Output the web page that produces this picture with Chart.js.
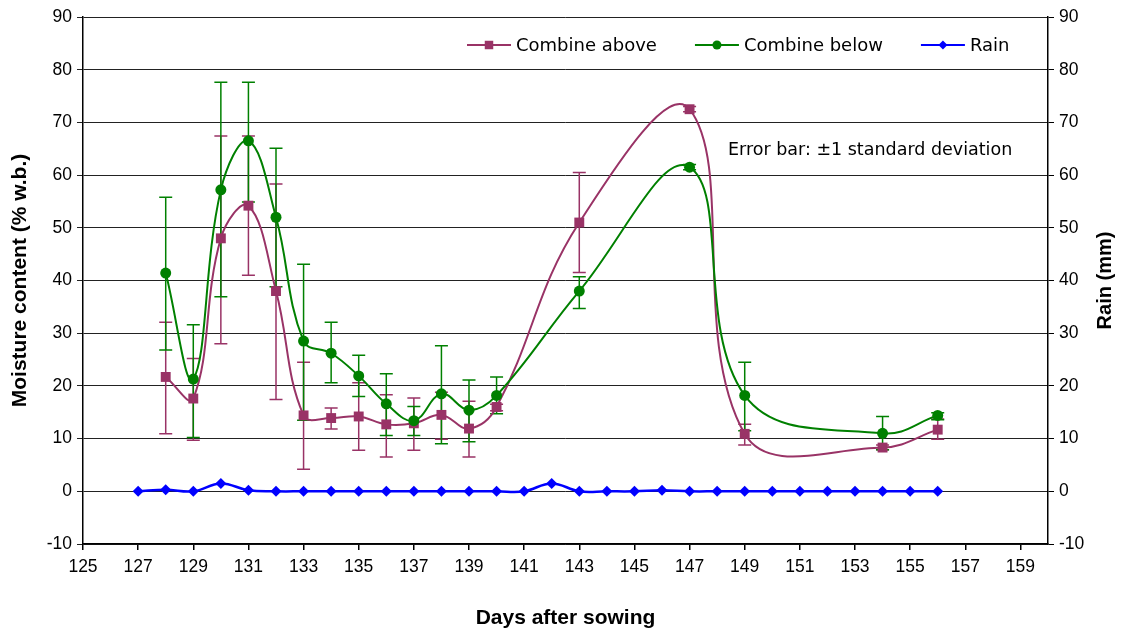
<!DOCTYPE html>
<html>
<head>
<meta charset="utf-8">
<script src="https://cdn.jsdelivr.net/npm/chart.js@4.4.1/dist/chart.umd.min.js"></script>
<style>
  html, body { margin: 0; padding: 0; background: #fff; }
  #wrap { width: 1124px; height: 634px; }
</style>
</head>
<body>
<div id="wrap"><canvas id="chart" width="1124" height="634"></canvas></div>
<script>
// days with moisture samples
const sampleDays = [128, 129, 130, 131, 132, 133, 134, 135, 136, 137, 138, 139, 140, 143, 147, 149, 154, 156];

// Combine above (mean, +1 sd, -1 sd)
const aboveVals = [21.7, 17.6, 48.0, 54.2, 38.0, 14.4, 13.9, 14.2, 12.7, 12.9, 14.5, 11.9, 16.0, 51.0, 72.5, 10.9, 8.3, 11.7];
const aboveHi   = [32.1, 25.2, 67.4, 67.4, 58.3, 24.5, 15.8, 20.6, 18.3, 17.7, 18.8, 17.1, 16.5, 60.5, 73.0, 12.7, 8.8, 13.7];
const aboveLo   = [10.9,  9.7, 28.0, 41.0, 17.4,  4.2, 11.8,  7.8,  6.5,  7.8,  9.9,  6.5, 15.3, 41.5, 72.0,  8.8, 7.9,  9.9];

// Combine below (mean, +1 sd, -1 sd)
const belowVals = [41.4, 21.3, 57.2, 66.5, 52.0, 28.5, 26.2, 21.9, 16.6, 13.4, 18.5, 15.4, 18.2, 38.0, 61.5, 18.2, 11.0, 14.4];
const belowHi   = [55.8, 31.6, 77.6, 77.6, 65.1, 43.1, 32.1, 25.8, 22.3, 16.1, 27.6, 21.1, 21.7, 40.7, 62.0, 24.5, 14.2, 14.9];
const belowLo   = [26.8, 10.2, 36.9, 54.9, 38.8, 13.5, 20.6, 18.0, 10.6, 10.6,  9.0,  9.4, 14.7, 34.7, 61.0, 11.5,  7.9, 13.6];

// Rain (mm)
const rainDays = [127, 128, 129, 130, 131, 132, 133, 134, 135, 136, 137, 138, 139, 140, 141, 142, 143, 144, 145, 146, 147, 148, 149, 150, 151, 152, 153, 154, 155, 156];
const rainVals = [0, 0.3, 0, 1.5, 0.2, 0, 0, 0, 0, 0, 0, 0, 0, 0, 0, 1.5, 0, 0, 0, 0.2, 0, 0, 0, 0, 0, 0, 0, 0, 0, 0];

const xTicks = [125, 127, 129, 131, 133, 135, 137, 139, 141, 143, 145, 147, 149, 151, 153, 155, 157, 159];

const toPts = (xs, ys) => xs.map((x, i) => ({ x: x, y: ys[i] }));

// error bars, drawn under the markers
const errorBars = {
  id: 'errorBars',
  beforeDatasetsDraw(chart) {
    const ctx = chart.ctx;
    const xs = chart.scales.x, ys = chart.scales.y;
    chart.data.datasets.forEach(ds => {
      if (!ds.errHi) return;
      ctx.save();
      ctx.strokeStyle = ds.borderColor;
      ctx.lineWidth = 1.5;
      ds.data.forEach((p, i) => {
        const x = xs.getPixelForValue(p.x);
        const y1 = ys.getPixelForValue(ds.errHi[i]);
        const y2 = ys.getPixelForValue(ds.errLo[i]);
        ctx.beginPath();
        ctx.moveTo(x, y1); ctx.lineTo(x, y2);
        ctx.moveTo(x - 6.5, y1); ctx.lineTo(x + 6.5, y1);
        ctx.moveTo(x - 6.5, y2); ctx.lineTo(x + 6.5, y2);
        ctx.stroke();
      });
      ctx.restore();
    });
  }
};

function marker(ctx, style, x, y, r) {
  ctx.beginPath();
  if (style === 'rect') {
    ctx.rect(x - r * 0.707, y - r * 0.707, r * 1.414, r * 1.414);
  } else if (style === 'rectRot') {
    ctx.moveTo(x, y - r); ctx.lineTo(x + r, y); ctx.lineTo(x, y + r); ctx.lineTo(x - r, y); ctx.closePath();
  } else {
    ctx.arc(x, y, r, 0, Math.PI * 2);
  }
  ctx.fill();
}

// legend inside the plot, right axis title, note
const extras = {
  id: 'extras',
  afterDraw(chart) {
    const ctx = chart.ctx;
    const a = chart.chartArea;
    ctx.save();
    ctx.font = '18px "DejaVu Sans"';
    ctx.textBaseline = 'middle';
    ctx.textAlign = 'left';
    let x = a.left + 384;
    const y = a.top + 28;
    chart.data.datasets.forEach(ds => {
      ctx.strokeStyle = ds.borderColor;
      ctx.lineWidth = 2;
      ctx.beginPath(); ctx.moveTo(x, y); ctx.lineTo(x + 44, y); ctx.stroke();
      ctx.fillStyle = ds.borderColor;
      marker(ctx, ds.pointStyle, x + 22, y, ds.pointRadius - 1);
      ctx.fillStyle = '#000';
      ctx.fillText(ds.label, x + 49, y + 1);
      x += 49 + ctx.measureText(ds.label).width + 38;
    });
    ctx.font = '17.5px "DejaVu Sans"';
    ctx.fillText('Error bar: \u00b11 standard deviation', a.left + 645, a.top + 133);

    ctx.font = 'bold 20px "Liberation Sans"';
    ctx.textAlign = 'center';
    ctx.translate(1105, (a.top + a.bottom) / 2);
    ctx.rotate(-Math.PI / 2);
    ctx.fillText('Rain (mm)', 0, 0);
    ctx.restore();
  }
};

const tickFont = { family: '"Liberation Sans"', size: 17.5 };
const titleFont = { family: '"Liberation Sans"', size: 21, weight: 'bold' };

new Chart(document.getElementById('chart'), {
  type: 'line',
  data: {
    datasets: [
      {
        label: 'Combine above',
        data: toPts(sampleDays, aboveVals),
        borderColor: '#993366', backgroundColor: '#993366',
        pointStyle: 'rect', pointRadius: 7, pointBorderWidth: 0,
        borderWidth: 2, tension: 0.4, order: 3,
        errHi: aboveHi, errLo: aboveLo
      },
      {
        label: 'Combine below',
        data: toPts(sampleDays, belowVals),
        borderColor: '#008000', backgroundColor: '#008000',
        pointStyle: 'circle', pointRadius: 5.5, pointBorderWidth: 0,
        borderWidth: 2, tension: 0.4, order: 2,
        errHi: belowHi, errLo: belowLo
      },
      {
        label: 'Rain',
        data: toPts(rainDays, rainVals),
        borderColor: '#0000ff', backgroundColor: '#0000ff',
        pointStyle: 'rectRot', pointRadius: 5.5, pointBorderWidth: 0,
        borderWidth: 2.5, tension: 0.4, order: 1,
        yAxisID: 'y2'
      }
    ]
  },
  options: {
    responsive: false,
    animation: false,
    events: [],
    devicePixelRatio: 1,
    layout: { padding: { top: 17, left: 0, right: 0, bottom: 0 } },
    plugins: { legend: { display: false }, tooltip: { enabled: false } },
    scales: {
      x: {
        type: 'linear', min: 125, max: 160,
        afterBuildTicks: s => { s.ticks = xTicks.map(v => ({ value: v })); },
        afterFit: s => { s.height = 90; },
        ticks: { color: '#000', font: tickFont, padding: 7, maxRotation: 0, autoSkip: false },
        grid: { drawOnChartArea: false, drawTicks: true, tickLength: 6, color: '#000', lineWidth: 1.5 },
        border: { color: '#000', width: 1.5 },
        title: { display: true, text: 'Days after sowing', color: '#000', font: titleFont, padding: { top: 0, bottom: 3 } }
      },
      y: {
        position: 'left', min: -10, max: 90,
        afterFit: s => { s.width = 83; },
        ticks: { stepSize: 10, color: '#000', font: tickFont, padding: 5 },
        grid: { color: '#222', lineWidth: 1, tickLength: 6 },
        border: { color: '#000', width: 1.5 },
        title: { display: true, text: 'Moisture content (% w.b.)', color: '#000', font: titleFont, padding: { top: 8, bottom: 0 } }
      },
      y2: {
        position: 'right', min: -10, max: 90,
        afterFit: s => { s.width = 76; },
        ticks: { stepSize: 10, color: '#000', font: tickFont, padding: 5 },
        grid: { drawOnChartArea: false, color: '#000', lineWidth: 1, tickLength: 6 },
        border: { color: '#000', width: 1.5 }
      }
    }
  },
  plugins: [errorBars, extras]
});
</script>
</body>
</html>
